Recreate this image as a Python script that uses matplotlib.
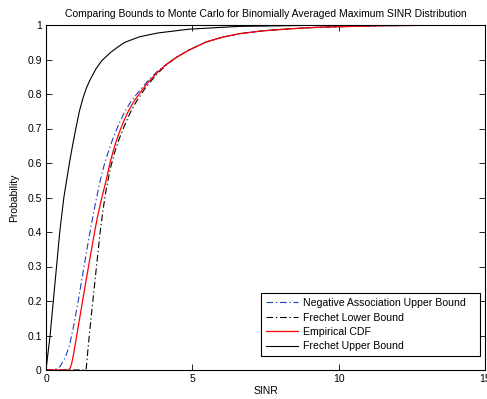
import matplotlib
matplotlib.use('Agg')
import matplotlib.pyplot as plt

plt.rcParams['font.family'] = ['Liberation Sans', 'DejaVu Sans']

# Empirical CDF (Monte Carlo)
emp_x = [0, 0.76, 0.82, 0.88, 0.95, 1.05, 1.2, 1.35, 1.5, 1.65, 1.75, 1.9, 2.05, 2.2, 2.35,
         2.5, 2.65, 2.8, 3.0, 3.25, 3.5, 3.8, 4.1, 4.45, 4.9, 5.48, 6.0, 6.62, 7.4, 8.33,
         9.2, 10, 11.5, 13, 15]
emp_y = [0, 0, 0.004, 0.02, 0.05, 0.1, 0.175, 0.25, 0.323, 0.395, 0.44, 0.497, 0.548, 0.605, 0.65,
         0.688, 0.72, 0.748, 0.778, 0.808, 0.835, 0.862, 0.885, 0.906, 0.928, 0.951, 0.964, 0.975, 0.983, 0.989,
         0.993, 0.995, 0.998, 0.999, 1.0]

# Negative association upper bound
na_x = [0, 0.3, 0.48, 0.65, 0.8, 0.95, 1.1, 1.25, 1.4, 1.55, 1.7, 1.85, 2.0, 2.15, 2.3,
        2.5, 2.7, 2.9, 3.1, 3.4, 3.78, 4.1, 4.45, 4.9, 5.48, 6.0, 6.62, 7.4, 8.33,
        9.2, 10, 11.5, 13, 15]
na_y = [0, 0.001, 0.01, 0.035, 0.07, 0.13, 0.2, 0.275, 0.35, 0.422, 0.488, 0.548, 0.598, 0.638, 0.674,
        0.715, 0.75, 0.778, 0.8, 0.83, 0.864, 0.885, 0.906, 0.928, 0.951, 0.964, 0.975, 0.983, 0.989,
        0.993, 0.995, 0.998, 0.999, 1.0]

# Frechet lower bound
fl_x = [0, 1.37, 1.45, 1.55, 1.65, 1.75, 1.85, 1.95, 2.05, 2.2, 2.35, 2.5, 2.7, 2.9,
        3.1, 3.4, 3.78, 4.1, 4.45, 4.9, 5.48, 6.0, 6.62, 7.4, 8.33, 9.2, 10, 11.5, 13, 15]
fl_y = [0, 0, 0.075, 0.16, 0.24, 0.32, 0.4, 0.465, 0.52, 0.585, 0.632, 0.67, 0.712, 0.75,
        0.78, 0.818, 0.857, 0.883, 0.906, 0.928, 0.951, 0.964, 0.975, 0.983, 0.989, 0.993, 0.995, 0.998, 0.999, 1.0]

# Frechet upper bound
fu_x = [0, 0.14, 0.25, 0.36, 0.47, 0.61, 0.8, 0.91, 1.02, 1.14, 1.27, 1.38, 1.5, 1.7, 1.9,
        2.2, 2.45, 2.7, 3.2, 3.83, 4.9, 6.6, 9, 12, 15]
fu_y = [0, 0.1, 0.2, 0.3, 0.4, 0.5, 0.6, 0.652, 0.7, 0.75, 0.79, 0.817, 0.84, 0.872, 0.896,
        0.92, 0.936, 0.95, 0.966, 0.977, 0.988, 0.996, 0.999, 1.0, 1.0]

x_ticks = [0, 5, 10, 15]
y_ticks = [0, 0.1, 0.2, 0.3, 0.4, 0.5, 0.6, 0.7, 0.8, 0.9, 1]
y_tick_labels = ['0', '0.1', '0.2', '0.3', '0.4', '0.5', '0.6', '0.7', '0.8', '0.9', '1']

fig = plt.figure(figsize=(4.87, 3.99), dpi=100)
ax = fig.add_axes([46/487, 29/399, 439/487, 345/399])

dashdot = (0, (6, 2.5, 1.2, 2.5))
ax.plot(na_x, na_y, color='#2040c0', lw=0.8, linestyle=dashdot, label='Negative Association Upper Bound')
ax.plot(fl_x, fl_y, color='k', lw=0.8, linestyle=dashdot, label='Frechet Lower Bound')
ax.plot(emp_x, emp_y, color='r', lw=0.9, label='Empirical CDF')
ax.plot(fu_x, fu_y, color='k', lw=0.8, label='Frechet Upper Bound')

ax.set_xlim(0, 15)
ax.set_ylim(0, 1)
ax.set_xticks(x_ticks)
ax.set_yticks(y_ticks)
ax.set_yticklabels(y_tick_labels)
ax.tick_params(direction='in', top=True, right=True, labelsize=7.5, length=4, width=0.6, pad=3)
for s in ax.spines.values():
    s.set_linewidth(0.8)

ax.set_title('Comparing Bounds to Monte Carlo for Binomially Averaged Maximum SINR Distribution',
             fontsize=7.5, pad=6)
ax.set_xlabel('SINR', fontsize=7.5, labelpad=1)
ax.set_ylabel('Probability', fontsize=7.5, labelpad=6)

leg = ax.legend(loc='lower left', bbox_to_anchor=(0.49, 0.04, 0.499, 0.18), mode='expand',
                fontsize=7.6, fancybox=False, framealpha=1, edgecolor='k',
                handlelength=3.0, borderaxespad=0, borderpad=0.45,
                labelspacing=0.42, handletextpad=0.5)
leg.get_frame().set_linewidth(0.8)

fig.savefig('out.png', dpi=100)
